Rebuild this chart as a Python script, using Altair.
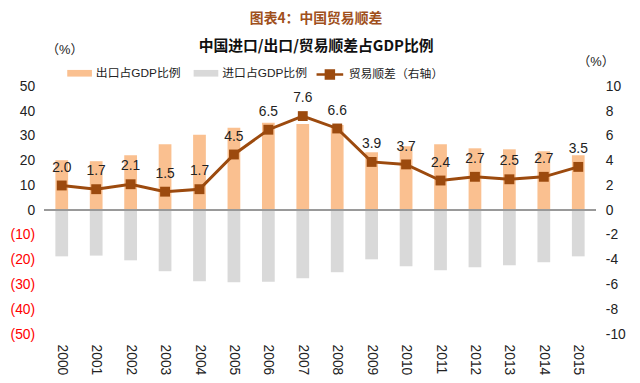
import altair as alt
import pandas as pd

years = [str(y) for y in range(2000, 2016)]
exports = [20.2, 19.8, 22.2, 26.6, 30.5, 33.3, 35.3, 34.8, 34.4, 23.4, 25.8, 26.6, 25.0, 24.6, 23.8, 22.2]
imports = [18.6, 18.3, 20.2, 24.6, 28.6, 29.0, 28.8, 27.4, 25.0, 19.8, 22.6, 24.2, 23.0, 22.2, 21.0, 18.6]
balance = [2.0, 1.7, 2.1, 1.5, 1.7, 4.5, 6.5, 7.6, 6.6, 3.9, 3.7, 2.4, 2.7, 2.5, 2.7, 3.5]

bar_names = ["出口占GDP比例", "进口占GDP比例"]
line_name = "贸易顺差（右轴）"

bars_df = pd.DataFrame({
    "year": years * 2,
    "series": [bar_names[0]] * len(years) + [bar_names[1]] * len(years),
    "value": exports + [-v for v in imports],
})
line_df = pd.DataFrame({"year": years, "balance": balance, "series": line_name})

FONT = "Liberation Sans, Noto Sans CJK SC"
BROWN = "#9C4A0E"

x_enc = alt.X(
    "year:N",
    scale=alt.Scale(paddingInner=0.63, paddingOuter=0.315),
    axis=alt.Axis(title=None, labelAngle=90, ticks=False, domain=False, labelPadding=10,
                  labelFontSize=14, labelColor="#222", labelFont=FONT),
)

left_axis = alt.Axis(
    values=list(range(-50, 51, 10)), grid=False, ticks=False, domain=False,
    labelPadding=10, labelFontSize=14, labelFont=FONT, labelOverlap=False,
    labelExpr="datum.value < 0 ? '(' + abs(datum.value) + ')' : datum.value",
    labelColor=alt.ExprRef("datum.value < 0 ? '#FF0000' : '#222222'"),
    title="（%）", titleAngle=0, titleX=20, titleY=-37, titleAlign="center",
    titleBaseline="middle", titleFontWeight="normal", titleFontSize=13, titleFont=FONT,
    titleColor="#222",
)
left_scale = alt.Scale(domain=[-50, 50], nice=False)

bars = alt.Chart(bars_df).mark_bar().encode(
    x=x_enc,
    y=alt.Y("value:Q", scale=left_scale, axis=left_axis),
    color=alt.Color(
        "series:N",
        scale=alt.Scale(domain=bar_names, range=["#FAC090", "#D9D9D9"]),
        legend=alt.Legend(
            orient="none", legendX=23, legendY=-26, direction="horizontal", title=None,
            symbolType="M-1,-0.27H1V0.27H-1Z", symbolSize=625, symbolStrokeWidth=0,
            labelOffset=4, columnPadding=12, labelFontSize=12, labelFont=FONT,
            labelColor="#222", padding=0,
        ),
    ),
)

zero = alt.Chart(bars_df).mark_rule(color="#999999", strokeWidth=1.5).encode(
    y=alt.Y(datum=0, scale=left_scale, axis=left_axis)
)

left = alt.layer(bars, zero)

right_axis = alt.Axis(
    orient="right", values=list(range(-10, 11, 2)), grid=False, ticks=False, domain=False,
    labelPadding=10, labelFontSize=14, labelFont=FONT, labelColor="#222", labelOverlap=False,
    labelExpr="'' + datum.value",
    title="（%）", titleAngle=0, titleX=0, titleY=-25, titleAlign="center",
    titleBaseline="middle", titleFontWeight="normal", titleFontSize=13, titleFont=FONT,
    titleColor="#222",
)
right_scale = alt.Scale(domain=[-10, 10], nice=False)
y_right = alt.Y("balance:Q", scale=right_scale, axis=right_axis)

line = alt.Chart(line_df).mark_line(color=BROWN, strokeWidth=3).encode(x="year:N", y=y_right)
points = alt.Chart(line_df).mark_point(shape="square", filled=True, size=100, opacity=1).encode(
    x="year:N",
    y=y_right,
    color=alt.Color(
        "series:N",
        scale=alt.Scale(domain=[line_name], range=[BROWN]),
        legend=alt.Legend(
            orient="none", legendX=274, legendY=-27, title=None,
            symbolType="M-1,0H1M-0.3,-0.3H0.3V0.3H-0.3Z", symbolSize=729,
            symbolStrokeColor=BROWN, symbolFillColor=BROWN, symbolStrokeWidth=2.5,
            labelOffset=4, labelFontSize=12, labelFont=FONT, labelColor="#222", padding=0,
        ),
    ),
)
labels = alt.Chart(line_df).mark_text(dy=-18, fontSize=14, font=FONT, color="#222").encode(
    x="year:N",
    y=y_right,
    text=alt.Text("balance:Q", format=".1f"),
)

right = alt.layer(line, points, labels)

chart = alt.layer(left, right).resolve_scale(y="independent", color="independent").properties(
    width=558,
    height=251,
    autosize=alt.AutoSizeParams(type="none"),
    padding={"left": 37, "top": 77, "right": 37, "bottom": 39},
    title=alt.TitleParams(
        text="图表4：中国贸易顺差",
        subtitle="中国进口/出口/贸易顺差占GDP比例",
        color="#A0501C", fontSize=14, font="Noto Sans CJK SC", fontWeight="bold",
        subtitleColor="#111", subtitleFontSize=15, subtitleFont="Noto Sans CJK SC",
        subtitleFontWeight="bold", subtitlePadding=13, frame="group", offset=-10, dx=-4,
        anchor="middle",
    ),
).configure_view(stroke=None).configure_axis(labelOverlap=False)

chart.save("out.html", embed_options={"renderer": "svg", "actions": False})
